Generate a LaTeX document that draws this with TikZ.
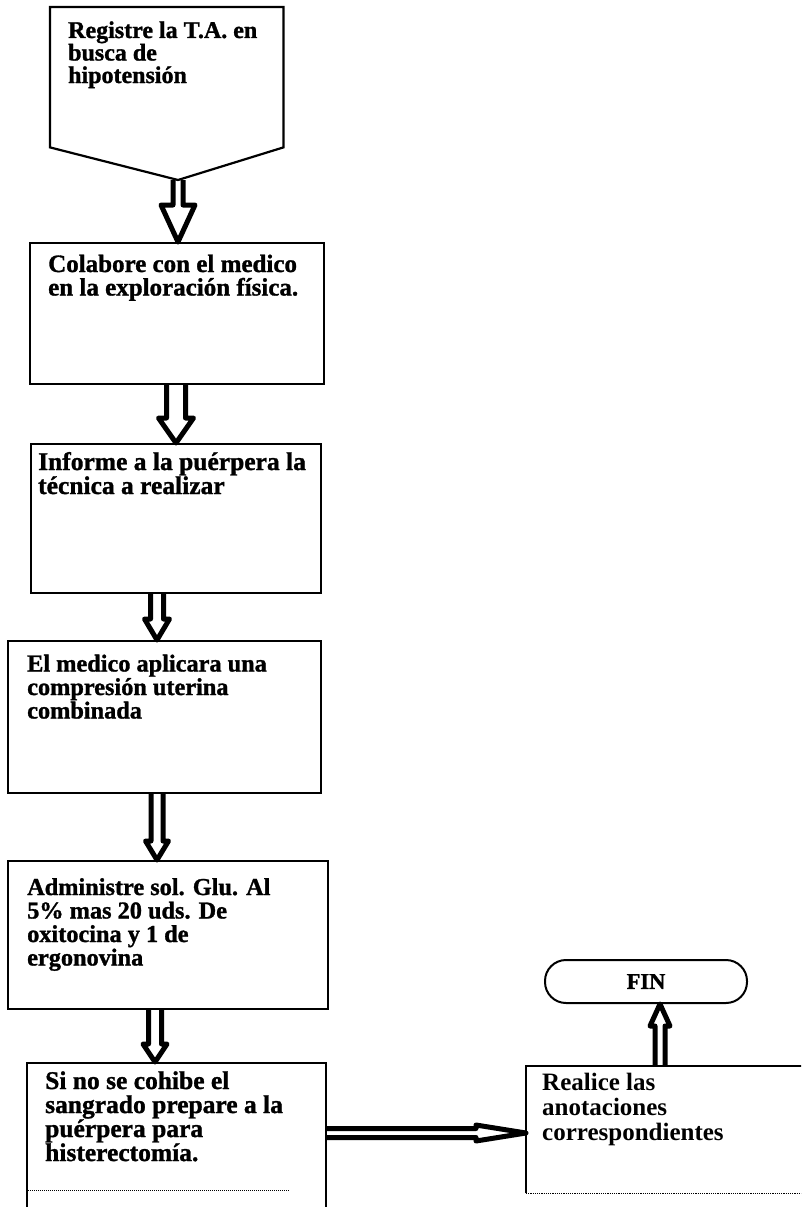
\documentclass[tikz,border=0pt]{standalone}
\usepackage{fontspec}
\setmainfont{Liberation Serif}
\newfontfamily\heavyserif{Liberation Serif}[BoldFeatures={FakeBold=1.2}]
\usetikzlibrary{calc}
\pgfdeclarelayer{bg}
\pgfsetlayers{bg,main}

% hollow block arrows: from, to, half shaft, half head, head length (pt)
\newcommand\blkdown[5]{%
  \begin{pgfonlayer}{bg}
  \draw[blk] let \p1=#1, \p2=#2 in
    (\x1-#3pt,\y1) -- (\x1-#3pt,\y2+#5pt) -- (\x1-#4pt,\y2+#5pt) -- (\x1,\y2)
    -- (\x1+#4pt,\y2+#5pt) -- (\x1+#3pt,\y2+#5pt) -- (\x1+#3pt,\y1);
  \end{pgfonlayer}}
\newcommand\blkup[5]{%
  \begin{pgfonlayer}{bg}
  \draw[blk] let \p1=#1, \p2=#2 in
    (\x1-#3pt,\y1) -- (\x1-#3pt,\y2-#5pt) -- (\x1-#4pt,\y2-#5pt) -- (\x1,\y2)
    -- (\x1+#4pt,\y2-#5pt) -- (\x1+#3pt,\y2-#5pt) -- (\x1+#3pt,\y1);
  \end{pgfonlayer}}
\newcommand\blkright[5]{%
  \begin{pgfonlayer}{bg}
  \draw[blk] let \p1=#1, \p2=#2 in
    (\x1,\y1+#3pt) -- (\x2-#5pt,\y1+#3pt) -- (\x2-#5pt,\y1+#4pt) -- (\x2,\y1)
    -- (\x2-#5pt,\y1-#4pt) -- (\x2-#5pt,\y1-#3pt) -- (\x1,\y1-#3pt);
  \end{pgfonlayer}}
% bold text at a given size and fixed line pitch
\newcommand\stepfont[2]{\bfseries\fontsize{#1}{#2}\selectfont\lineskiplimit=-30pt\relax}
\newcommand\heavyfont[2]{\heavyserif\stepfont{#1}{#2}}

\begin{document}
\begin{tikzpicture}[x=1pt,y=-1pt,
  box/.style={draw, line width=2.2pt, rectangle, inner sep=0pt, anchor=north west},
  frame/.style={draw=none, rectangle, inner sep=0pt, anchor=north west},
  txt/.style={anchor=base west, align=left, inner sep=0pt},
  blk/.style={draw, fill=white, line width=5pt, line join=round}]
\useasboundingbox (0,0) rectangle (801,1207);
\clip (0,0) rectangle (801,1207);

% first step: off-page connector (texts anchored at their last baseline)
\node[frame, minimum width=233pt, minimum height=140pt] (b1) at (50,7) {};
\coordinate (b1tip) at (178,180);
\draw[line width=2.2pt, line join=miter]
  (b1.south west) -- (b1.north west) -- (b1.north east) -- (b1.south east) -- (b1tip) -- cycle;
\node[txt, font=\heavyfont{24}{22.5}] (t1) at (68,83)
  {Registre la T.A. en\\busca de\\hipotensión};

% process boxes
\node[box, minimum width=294pt, minimum height=141pt] (b2) at (29,242) {};
\node[txt, font=\heavyfont{25}{23.5}] (t2) at (48,295.5)
  {Colabore con el medico\\en la exploración física.};

\node[box, minimum width=290pt, minimum height=149pt] (b3) at (30,443) {};
\node[txt, font=\heavyfont{25.5}{24}] (t3) at (38,494)
  {Informe a la puérpera la\\técnica a realizar};

\node[box, minimum width=313pt, minimum height=152pt] (b4) at (7,640) {};
\node[txt, font=\heavyfont{24.3}{23.5}] (t4) at (27,718.5)
  {El medico aplicara una\\compresión uterina\\combinada};

\node[box, minimum width=320pt, minimum height=148pt] (b5) at (7,860) {};
\node[txt, font=\heavyfont{24.3}{23.5}] (t5) at (27,965.5)
  {Administre sol. Glu. Al\\5\% mas 20 uds. De\\oxitocina y 1 de\\ergonovina};

\node[box, minimum width=299pt, minimum height=160pt] (b6) at (26,1062) {};
\draw[line width=1pt, densely dotted] (b6.west |- 0,1190) -- (290,1190);
\node[txt, font=\heavyfont{25.5}{24}] (t6) at (45,1161)
  {Si no se cohibe el\\sangrado prepare a la\\puérpera para\\histerectomía.};

\node[frame, minimum width=290pt, minimum height=127pt] (b7) at (526,1066) {};
\draw[line width=2.2pt] (b7.south west) -- (b7.north west) -- (b7.north east);
\draw[line width=1.2pt, densely dotted] (b7.south west) -- (b7.south east);
\node[txt, font=\stepfont{25}{25}] (t7) at (542,1140)
  {Realice las\\anotaciones\\correspondientes};

% terminator
\node[draw, line width=2pt, rounded corners=21pt, minimum width=202pt, minimum height=43pt,
  inner sep=0pt, font=\heavyfont{22.5}{22}] (fin) at (646,981.5) {FIN};

% connectors
\blkdown{(b1tip)}{(b2.north -| b1tip)}{5}{17}{37}
\blkdown{(b2.south -| 176,0)}{(b3.north -| 176,0)}{9.5}{17.5}{25}
\blkdown{(b3.south -| 157,0)}{(b4.north -| 157,0)}{6.5}{12.5}{21}
\blkdown{(b4.south -| 157,0)}{(b5.north -| 157,0)}{6}{11.5}{19}
\blkdown{(b5.south -| 155,0)}{(b6.north -| 155,0)}{6.5}{12}{18}
\blkright{(b6.east |- 0,1133)}{(b7.west |- 0,1133)}{4.5}{8}{50}
\blkup{(b7.north -| 660,0)}{(fin.south -| 660,0)}{5}{10}{22}
\end{tikzpicture}
\end{document}
